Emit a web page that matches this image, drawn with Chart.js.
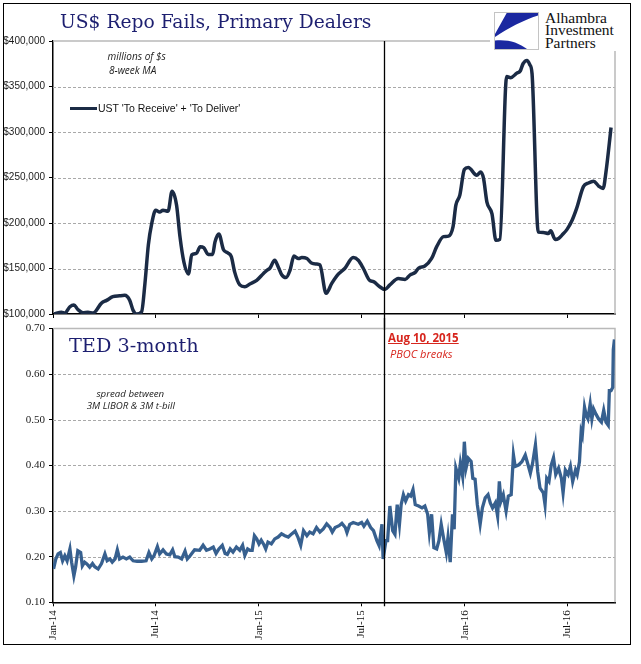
<!DOCTYPE html>
<html><head><meta charset="utf-8">
<script src="https://cdn.jsdelivr.net/npm/chart.js@4.4.1/dist/chart.umd.min.js"></script>
<style>
html,body{margin:0;padding:0;background:#fff;}
#wrap{position:relative;width:641px;height:664px;overflow:hidden;background:#fff;}
canvas{position:absolute;left:0;}
.t{position:absolute;white-space:nowrap;}
</style></head><body>
<div id="wrap">
<div style="position:absolute;left:3px;top:3px;width:628px;height:642px;border:1.5px solid #000;box-sizing:border-box;"></div>
<canvas id="c1" width="641" height="330" style="top:0;width:641px;height:330px"></canvas>
<canvas id="c2" width="641" height="346" style="top:318px;width:641px;height:346px"></canvas>

<div class="t" style="left:60px;top:12.5px;font:18.7px/18.7px 'DejaVu Serif',serif;color:#1d1f70;">US$ Repo Fails, Primary Dealers</div>
<div class="t" style="left:69px;top:336.4px;font:19.3px/19.3px 'DejaVu Serif',serif;color:#1d1f70;">TED 3-month</div>

<div class="t" style="left:86.7px;width:100px;text-align:center;top:50.8px;font:italic 10px/10px 'Open Sans',sans-serif;color:#222;">millions of $s</div>
<div class="t" style="left:82.7px;width:100px;text-align:center;top:64.6px;font:italic 10px/10px 'Open Sans',sans-serif;color:#222;">8-week MA</div>

<div style="position:absolute;left:70px;top:106.8px;width:27px;height:3px;background:#1b2b45;"></div>
<div class="t" style="left:98px;top:103.4px;font:10.5px/10.5px 'Liberation Sans',Arial,sans-serif;color:#111;">UST 'To Receive' + 'To Deliver'</div>

<div class="t" style="left:80.3px;width:100px;text-align:center;top:388.7px;font:italic 9.7px/9.7px 'Open Sans',sans-serif;color:#222;">spread between</div>
<div class="t" style="left:70.8px;width:120px;text-align:center;top:401.4px;font:italic 9.7px/9.7px 'Open Sans',sans-serif;color:#222;">3M LIBOR &amp; 3M t-bill</div>

<div class="t" style="left:388px;top:332.1px;font:bold 11.5px/11.5px 'Open Sans',sans-serif;color:#d7261e;text-decoration:underline;">Aug 10, 2015</div>
<div class="t" style="left:390px;top:347.9px;font:italic 11px/11px 'Open Sans',sans-serif;color:#d7261e;">PBOC breaks</div>

<div style="position:absolute;left:490px;top:8px;width:132px;height:43px;background:#fff;"></div>
<svg style="position:absolute;left:494px;top:12px;" width="45" height="38" viewBox="0 0 45 38">
  <rect x="0.5" y="0.5" width="44" height="37" fill="#fff" stroke="#c4c4c4" stroke-width="1"/>
  <path d="M12.7,1 L44,1 L44,3.5 C30,8 14,16 1,25 L1,22 Z" fill="#1b28a0"/>
  <path d="M1,37 L1,28.5 C13,27 25,30.5 33,37 Z" fill="#1b28a0"/>
</svg>
<div class="t" style="left:545px;top:11.9px;font:15.5px/12.5px 'Liberation Serif','Times New Roman',serif;color:#111;">Alhambra<br>Investment<br>Partners</div>
</div>

<script>
// ---- data ----
const xTickDays = [0, 181, 365, 546, 730, 912]; // days since 2014-01-01
const xTickLabels = ['Jan-14', 'Jul-14', 'Jan-15', 'Jul-15', 'Jan-16', 'Jul-16'];
const xMaxDay = 996;
const eventDay = 586; // Aug 10, 2015

const repoTicks = [100000, 150000, 200000, 250000, 300000, 350000, 400000];
const repoTickLabels = ['$100,000', '$150,000', '$200,000', '$250,000', '$300,000', '$350,000', '$400,000'];
const tedTicks = [0.1, 0.2, 0.3, 0.4, 0.5, 0.6, 0.7];
const tedTickLabels = ['0.10', '0.20', '0.30', '0.40', '0.50', '0.60', '0.70'];

const repoDays = [2,15,21,30,37,44,53,62,71,86,
  95,106,118,127,136,142,148,157,163,169,
  175,182,189,195,204,211,219,225,232,240,
  246,254,261,267,275,283,287,294,302,310,
  316,322,331,340,349,361,373,379,384,393,
  399,405,413,420,427,435,441,450,458,467,
  473,484,494,506,517,532,541,550,561,568,
  579,588,597,612,624,633,642,648,659,671,
  680,692,701,709,714,721,729,736,751,758,
  763,769,778,785,792,804,811,822,828,833,
  840,845,849,860,869,878,882,890,896,902,
  911,920,928,940,949,958,967,975,980,989];
const repoValues = [100000,102000,101000,108000,110000,105000,101500,102000,101000,112000,
  115000,119000,120000,120500,115000,104000,100000,102500,134000,176000,
  199500,214000,212000,214000,213000,235000,219600,185000,157000,144000,
  165000,166600,174000,173000,165500,165500,179000,188000,171000,167000,
  163000,146000,132000,130000,133000,137000,144600,148000,150000,159000,
  152000,143500,140000,148000,163600,161000,162000,161000,156000,155000,
  154000,122700,133600,144000,150000,162000,159000,150000,137000,135500,
  130000,127000,132000,139000,138000,143000,145700,150500,152700,161000,
  174000,185000,185600,196000,219600,230600,258800,261000,252500,256000,
  249000,223000,210000,181000,182000,361000,359600,364700,367000,375000,
  378700,374000,364000,190000,189600,188500,191400,182000,183000,186700,
  193000,203000,216000,240000,244000,246000,240600,238000,256000,305000];

const tedDays = [1,5,9,13,17,21,25,30,33,37,40,44,49,52,56,60,65,70,74,80,
  86,92,96,101,105,110,114,118,124,130,136,142,149,157,165,170,175,179,185,189,
  195,201,207,212,216,222,228,234,238,243,251,260,266,272,278,284,289,294,300,305,
  309,314,319,325,331,336,340,345,349,353,357,361,365,369,373,377,381,387,393,399,
  405,411,417,423,429,434,439,444,450,455,461,467,473,479,485,491,495,500,507,512,
  518,521,526,532,541,547,551,557,563,568,574,578,583,585,590,593,597,602,606,610,
  614,617,621,625,630,634,638,642,648,654,659,664,667,671,675,680,684,688,692,697,
  700,704,708,711,714,719,722,726,729,732,736,741,744,748,752,757,761,766,771,775,
  779,784,788,791,794,798,803,807,812,816,819,825,831,837,842,846,850,855,859,863,
  869,872,875,879,883,887,891,896,901,904,908,913,917,921,926,929,933,936,938,942,
  945,948,952,955,958,962,967,972,976,980,984,986,989,992,993,995];
const tedValues = [0.173,0.195,0.206,0.209,0.191,0.202,0.191,0.217,0.188,0.158,0.177,0.213,0.209,0.180,0.188,0.184,0.177,0.185,0.178,0.173,
  0.185,0.206,0.191,0.195,0.188,0.195,0.215,0.195,0.199,0.195,0.199,0.191,0.190,0.190,0.191,0.209,0.195,0.202,0.222,0.206,
  0.215,0.206,0.204,0.215,0.200,0.199,0.195,0.212,0.195,0.202,0.215,0.214,0.225,0.214,0.217,0.221,0.207,0.217,0.225,0.207,
  0.205,0.217,0.210,0.221,0.214,0.225,0.203,0.217,0.214,0.214,0.246,0.239,0.228,0.236,0.228,0.217,0.232,0.228,0.239,0.243,
  0.250,0.246,0.243,0.250,0.256,0.243,0.225,0.257,0.246,0.254,0.250,0.264,0.254,0.261,0.272,0.264,0.254,0.264,0.268,0.273,
  0.264,0.253,0.271,0.275,0.271,0.275,0.267,0.278,0.264,0.257,0.235,0.224,0.271,0.195,0.235,0.235,0.311,0.257,0.249,0.314,
  0.271,0.314,0.336,0.322,0.336,0.333,0.347,0.314,0.311,0.307,0.311,0.293,0.253,0.293,0.220,0.217,0.235,0.271,0.242,0.209,
  0.242,0.188,0.293,0.260,0.394,0.372,0.405,0.376,0.452,0.394,0.416,0.409,0.372,0.370,0.314,0.271,0.307,0.329,0.336,0.318,
  0.307,0.318,0.289,0.365,0.322,0.336,0.300,0.333,0.336,0.423,0.398,0.401,0.408,0.423,0.401,0.383,0.405,0.445,0.387,0.351,
  0.340,0.314,0.372,0.365,0.401,0.417,0.380,0.394,0.372,0.340,0.390,0.380,0.398,0.365,0.390,0.380,0.408,0.474,0.466,0.528,
  0.510,0.502,0.535,0.502,0.524,0.513,0.502,0.495,0.521,0.495,0.488,0.564,0.564,0.571,0.654,0.676];

// ---- plugins ----
const framePlugin = {
  id: 'plotFrame',
  beforeDatasetsDraw(chart) {
    const {ctx, chartArea: a} = chart;
    const ys = chart.scales.y;
    ctx.save();
    // dashed horizontal gridlines at the y ticks
    ctx.strokeStyle = '#a9a9a9';
    ctx.lineWidth = 1;
    ctx.setLineDash([3, 2]);
    ys.ticks.forEach(t => {
      if (t.value === ys.min || t.value === ys.max) return;
      const y = Math.round(ys.getPixelForValue(t.value)) + 0.5;
      ctx.beginPath();
      ctx.moveTo(a.left, y);
      ctx.lineTo(a.right, y);
      ctx.stroke();
    });
    ctx.setLineDash([]);
    ctx.strokeStyle = '#b9b9b9';
    ctx.lineWidth = 1.5;
    ctx.beginPath();
    ctx.moveTo(a.left, a.top);
    ctx.lineTo(a.right, a.top);
    ctx.lineTo(a.right, a.bottom);
    ctx.stroke();
    ctx.restore();
  }
};
const eventLine = {
  id: 'eventLine',
  afterDraw(chart, args, opts) {
    const {ctx, chartArea: a} = chart;
    const x = Math.round(chart.scales.x.getPixelForValue(eventDay)) + 0.5;
    ctx.save();
    ctx.strokeStyle = '#000';
    ctx.lineWidth = 1.3;
    ctx.beginPath();
    if (opts.upper) { ctx.moveTo(x, a.top); ctx.lineTo(x, chart.height); }
    else { ctx.moveTo(x, 0); ctx.lineTo(x, a.bottom + 4); }
    ctx.stroke();
    ctx.restore();
  }
};

const sansFont = "'Liberation Sans', Arial, sans-serif";
const serifFont = "'Liberation Serif', 'Times New Roman', serif";

function xScale(showLabels, height) {
  return {
    type: 'linear', min: 0, max: xMaxDay,
    afterBuildTicks: s => { s.ticks = xTickDays.map(v => ({value: v})); },
    afterFit: s => { s.height = height; },
    ticks: {
      display: showLabels, autoSkip: false, minRotation: 90, maxRotation: 90, padding: 4,
      color: '#111', font: {family: serifFont, size: 11},
      callback: (v, i) => xTickLabels[i]
    },
    grid: {display: true, drawOnChartArea: false, drawTicks: true, tickLength: 4, tickColor: '#000', tickWidth: 1},
    border: {display: true, color: '#000', width: 1.5}
  };
}
function yScale(min, max, ticks, labels, font) {
  return {
    min: min, max: max,
    afterBuildTicks: s => { s.ticks = ticks.map(v => ({value: v})); },
    afterFit: s => { s.width = 53; },
    ticks: {padding: 4, color: '#1a1a1a', font: font, callback: (v, i) => labels[i]},
    grid: {display: true, drawOnChartArea: false, drawTicks: true, tickLength: 4, tickColor: '#000', tickWidth: 1},
    border: {display: true, color: '#000', width: 1.5}
  };
}

new Chart(document.getElementById('c1'), {
  type: 'line',
  data: {datasets: [{
    label: "UST 'To Receive' + 'To Deliver'",
    data: repoDays.map((d, i) => ({x: d, y: repoValues[i]})),
    borderColor: '#1b2b45', borderWidth: 3.5, pointRadius: 0,
    cubicInterpolationMode: 'monotone', fill: false
  }]},
  options: {
    responsive: false, animation: false, devicePixelRatio: 1, events: [],
    layout: {padding: {left: 0, right: 26, top: 41, bottom: 0}},
    plugins: {legend: {display: false}, tooltip: {enabled: false}, eventLine: {upper: true}},
    scales: {
      x: xScale(false, 16),
      y: yScale(100000, 400000, repoTicks, repoTickLabels, {family: sansFont, size: 10})
    }
  },
  plugins: [framePlugin, eventLine]
});

new Chart(document.getElementById('c2'), {
  type: 'line',
  data: {datasets: [{
    label: 'TED 3-month',
    data: tedDays.map((d, i) => ({x: d, y: tedValues[i]})),
    borderColor: '#37608f', borderWidth: 3.3, pointRadius: 0, tension: 0, fill: false
  }]},
  options: {
    responsive: false, animation: false, devicePixelRatio: 1, events: [],
    layout: {padding: {left: 0, right: 26, top: 7, bottom: 0}},
    plugins: {legend: {display: false}, tooltip: {enabled: false}, eventLine: {upper: false}},
    scales: {
      x: xScale(true, 61.7),
      y: yScale(0.1, 0.7, tedTicks, tedTickLabels, {family: serifFont, size: 11})
    }
  },
  plugins: [framePlugin, eventLine]
});
</script>
</body></html>
